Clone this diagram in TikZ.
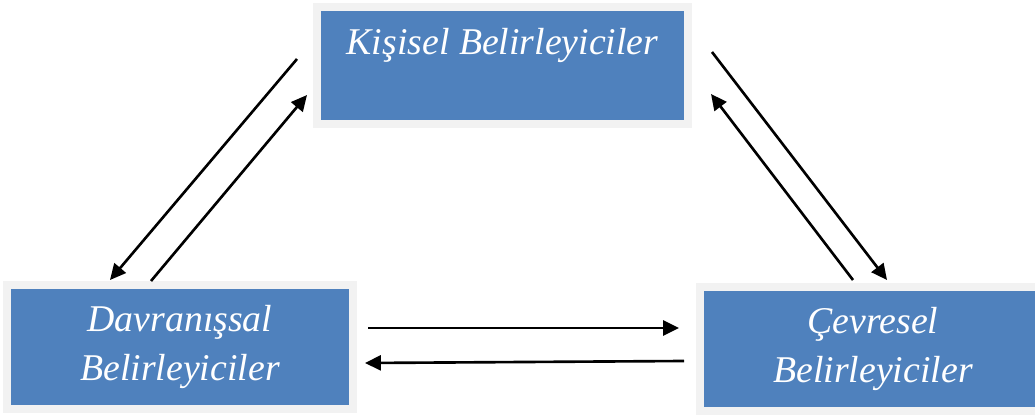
\documentclass[tikz,border=0pt]{standalone}
\usepackage{fontspec}
\setmainfont{Liberation Serif}
\usepackage{tikz}
\usetikzlibrary{arrows.meta,positioning}
\definecolor{boxblue}{RGB}{79,129,189}
\definecolor{boxrim}{RGB}{242,242,242}

\begin{document}
\begin{tikzpicture}[x=0.02cm, y=-0.02cm, box/.style={rectangle, draw=boxrim, line width=0.16cm, fill=boxblue, text=white, font=\fontsize{21.5}{27.5}\selectfont\itshape, align=center, inner sep=0pt, minimum width=6.92cm, minimum height=2.48cm}, link/.style={line width=1.5pt, -{Triangle[length=9pt, width=8.5pt]}}]
  \useasboundingbox (0,0) rectangle (1035,415);
  \node[box, minimum width=7.42cm, minimum height=2.34cm, text height=16pt, text depth=28pt] (kisisel) at (502.5,65.5) {Kişisel Belirleyiciler};
  \node[box] (davranis) at (180,347) {Davranışsal\\Belirleyiciler};
  \node[box] (cevre) at (873,349) {Çevresel\\Belirleyiciler};

  % arrow ends
  \coordinate (kd1) at (297,59);  \coordinate (kd2) at (110,280);
  \coordinate (dk1) at (151,281); \coordinate (dk2) at (307,95);
  \coordinate (kc1) at (712,52);  \coordinate (kc2) at (887,280);
  \coordinate (ck1) at (853,280); \coordinate (ck2) at (711,94);
  \coordinate (dc1) at (368,328); \coordinate (dc2) at (679,328);
  \coordinate (cd1) at (684,361); \coordinate (cd2) at (365,363);

  \draw[link] (kd1) -- (kd2);
  \draw[link] (dk1) -- (dk2);
  \draw[link] (kc1) -- (kc2);
  \draw[link] (ck1) -- (ck2);
  \draw[link] (dc1) -- (dc2);
  \draw[link] (cd1) -- (cd2);
\end{tikzpicture}
\end{document}
